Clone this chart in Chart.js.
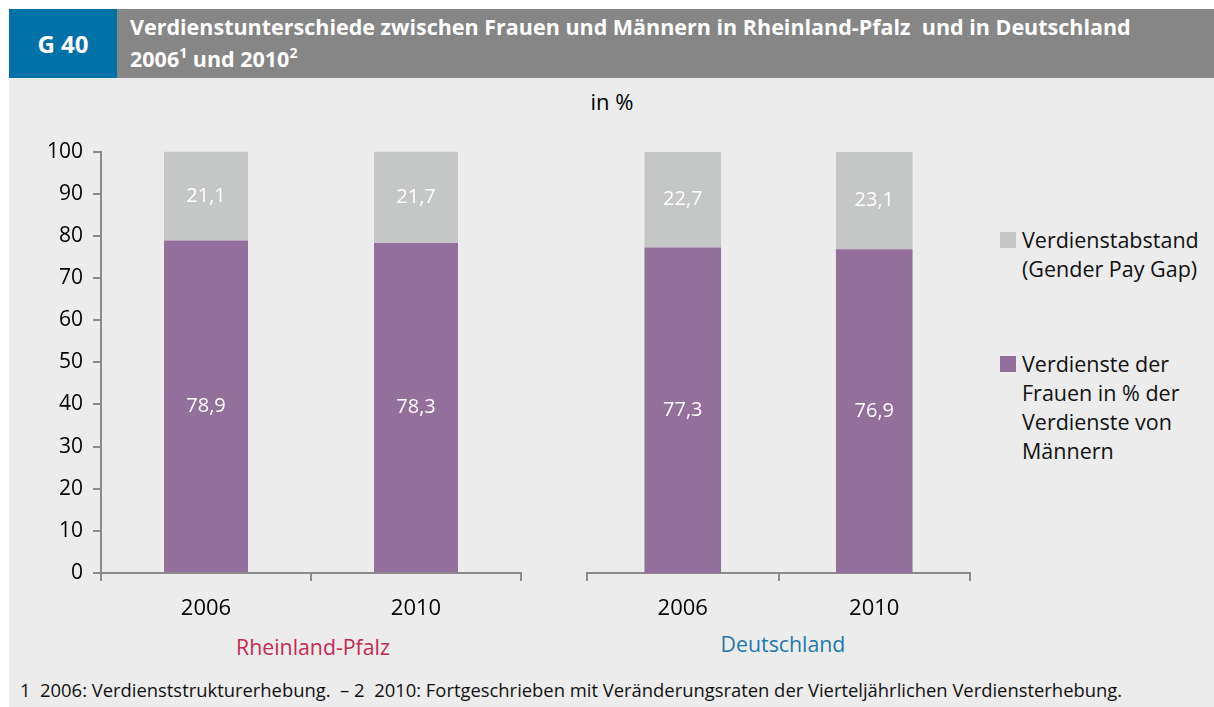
<!DOCTYPE html>
<html>
<head>
<meta charset="utf-8">
<script src="https://cdn.jsdelivr.net/npm/chart.js@4"></script>
<style>
  body { margin: 0; width: 1214px; height: 707px; background: #fff; font-family: "Open Sans", sans-serif; position: relative; overflow: hidden; }
  .abs { position: absolute; }
  #badge { left: 9px; top: 9px; width: 108px; height: 69px; background: #0072a7; color: #fff; font-weight: bold; font-size: 24px; line-height: 69px; text-align: center; }
  #titlebar { left: 117px; top: 9px; right: 0; height: 69px; background: #868686; color: #fff; font-weight: bold; font-size: 21.5px; line-height: 32px; padding: 2px 0 0 13px; box-sizing: border-box; white-space: nowrap; }
  #titlebar sup { font-size: 14px; vertical-align: 9px; line-height: 0; }
  #panel { left: 9px; top: 78px; right: 0; bottom: 0; background: #ececec; }
  #unit { left: 0; width: 1224px; top: 86px; text-align: center; font-size: 22px; }
  .legend { left: 1000px; font-size: 21.5px; line-height: 29px; color: #111; }
  .legend .sw { position: absolute; left: 0; top: 7px; width: 16px; height: 16px; }
  .legend .tx { margin-left: 22px; white-space: nowrap; }
  .grp { font-size: 21.3px; text-align: center; width: 300px; }
  #foot { left: 20px; top: 677px; font-size: 18.4px; color: #111; white-space: nowrap; }
</style>
</head>
<body>
<div id="panel" class="abs"></div>
<div id="badge" class="abs">G 40</div>
<div id="titlebar" class="abs">Verdienstunterschiede zwischen Frauen und Männern in Rheinland-Pfalz&nbsp; und in Deutschland<br>2006<sup>1</sup> und 2010<sup>2</sup></div>
<div id="unit" class="abs">in %</div>

<div class="abs" style="left:0;top:129px;"><canvas id="leftChart" width="524" height="494"></canvas></div>
<div class="abs" style="left:584px;top:132px;"><canvas id="rightChart" width="389" height="491"></canvas></div>

<div class="abs legend" style="top:225px;"><div class="sw" style="background:#c5c6c6"></div><div class="tx">Verdienstabstand<br>(Gender Pay Gap)</div></div>
<div class="abs legend" style="top:349px;"><div class="sw" style="background:#936f9b"></div><div class="tx">Verdienste der<br>Frauen in % der<br>Verdienste von<br>Männern</div></div>

<div class="abs grp" style="left:163px;top:632px;color:#c42a52;">Rheinland-Pfalz</div>
<div class="abs grp" style="left:633px;top:629px;color:#1f78ad;">Deutschland</div>

<div id="foot" class="abs">1&nbsp; 2006: Verdienststrukturerhebung.&nbsp; – 2&nbsp; 2010: Fortgeschrieben mit Veränderungsraten der Vierteljährlichen Verdiensterhebung.</div>

<script>
// data
const years = ['2006', '2010'];
const rlpFrauen = [78.9, 78.3];
const rlpGap = [21.1, 21.7];
const deFrauen = [77.3, 76.9];
const deGap = [22.7, 23.1];
const yTicks = [0, 10, 20, 30, 40, 50, 60, 70, 80, 90, 100];

const purple = '#936f9b';
const grey = '#c5c6c6';
const axisColor = '#8a8a8a';
const fontFamily = '"Open Sans", sans-serif';

// white value labels in the middle of each segment
const valueLabels = {
    id: 'valueLabels',
    afterDatasetsDraw(chart) {
        const ctx = chart.ctx;
        ctx.save();
        ctx.fillStyle = '#fff';
        ctx.font = '20px ' + fontFamily;
        ctx.textAlign = 'center';
        ctx.textBaseline = 'middle';
        chart.data.datasets.forEach(function(ds, i) {
            chart.getDatasetMeta(i).data.forEach(function(bar, j) {
                const txt = ds.data[j].toFixed(1).replace('.', ',');
                ctx.fillText(txt, bar.x, (bar.y + bar.base) / 2);
            });
        });
        ctx.restore();
    }
};

function makeChart(id, frauen, gap, showY, padLeft) {
    const ctx = document.getElementById(id).getContext('2d');
    return new Chart(ctx, {
        type: 'bar',
        data: {
            labels: years,
            datasets: [{
                label: 'Verdienste der Frauen in % der Verdienste von Männern',
                data: frauen,
                backgroundColor: purple,
                barPercentage: 0.4,
                categoryPercentage: 1
            }, {
                label: 'Verdienstabstand (Gender Pay Gap)',
                data: gap,
                backgroundColor: grey,
                barPercentage: 0.4,
                categoryPercentage: 1
            }]
        },
        options: {
            responsive: false,
            animation: false,
            devicePixelRatio: 1,
            layout: { padding: { top: 20, right: 3, left: padLeft, bottom: 0 } },
            plugins: { legend: { display: false }, tooltip: { enabled: false } },
            scales: {
                x: {
                    stacked: true,
                    offset: true,
                    grid: { offset: true, drawOnChartArea: false, drawTicks: true, tickLength: 8, color: axisColor, lineWidth: 2 },
                    border: { color: axisColor, width: 2 },
                    ticks: { color: '#000', font: { family: fontFamily, size: 22 }, padding: 15 },
                    afterFit: function(scale) { scale.height = 50; }
                },
                y: {
                    stacked: true,
                    display: showY,
                    min: 0,
                    max: 100,
                    afterBuildTicks: function(scale) { scale.ticks = yTicks.map(function(v) { return { value: v }; }); },
                    grid: { drawOnChartArea: false, drawTicks: true, tickLength: 8, color: axisColor, lineWidth: 2 },
                    border: { color: axisColor, width: 2 },
                    ticks: { color: '#000', font: { family: fontFamily, size: 21 }, padding: 10 },
                    afterFit: function(scale) { scale.width = showY ? 101 : 0; }
                }
            }
        },
        plugins: [valueLabels]
    });
}

makeChart('leftChart', rlpFrauen, rlpGap, true, 0);
makeChart('rightChart', deFrauen, deGap, false, 3);
</script>
</body>
</html>
